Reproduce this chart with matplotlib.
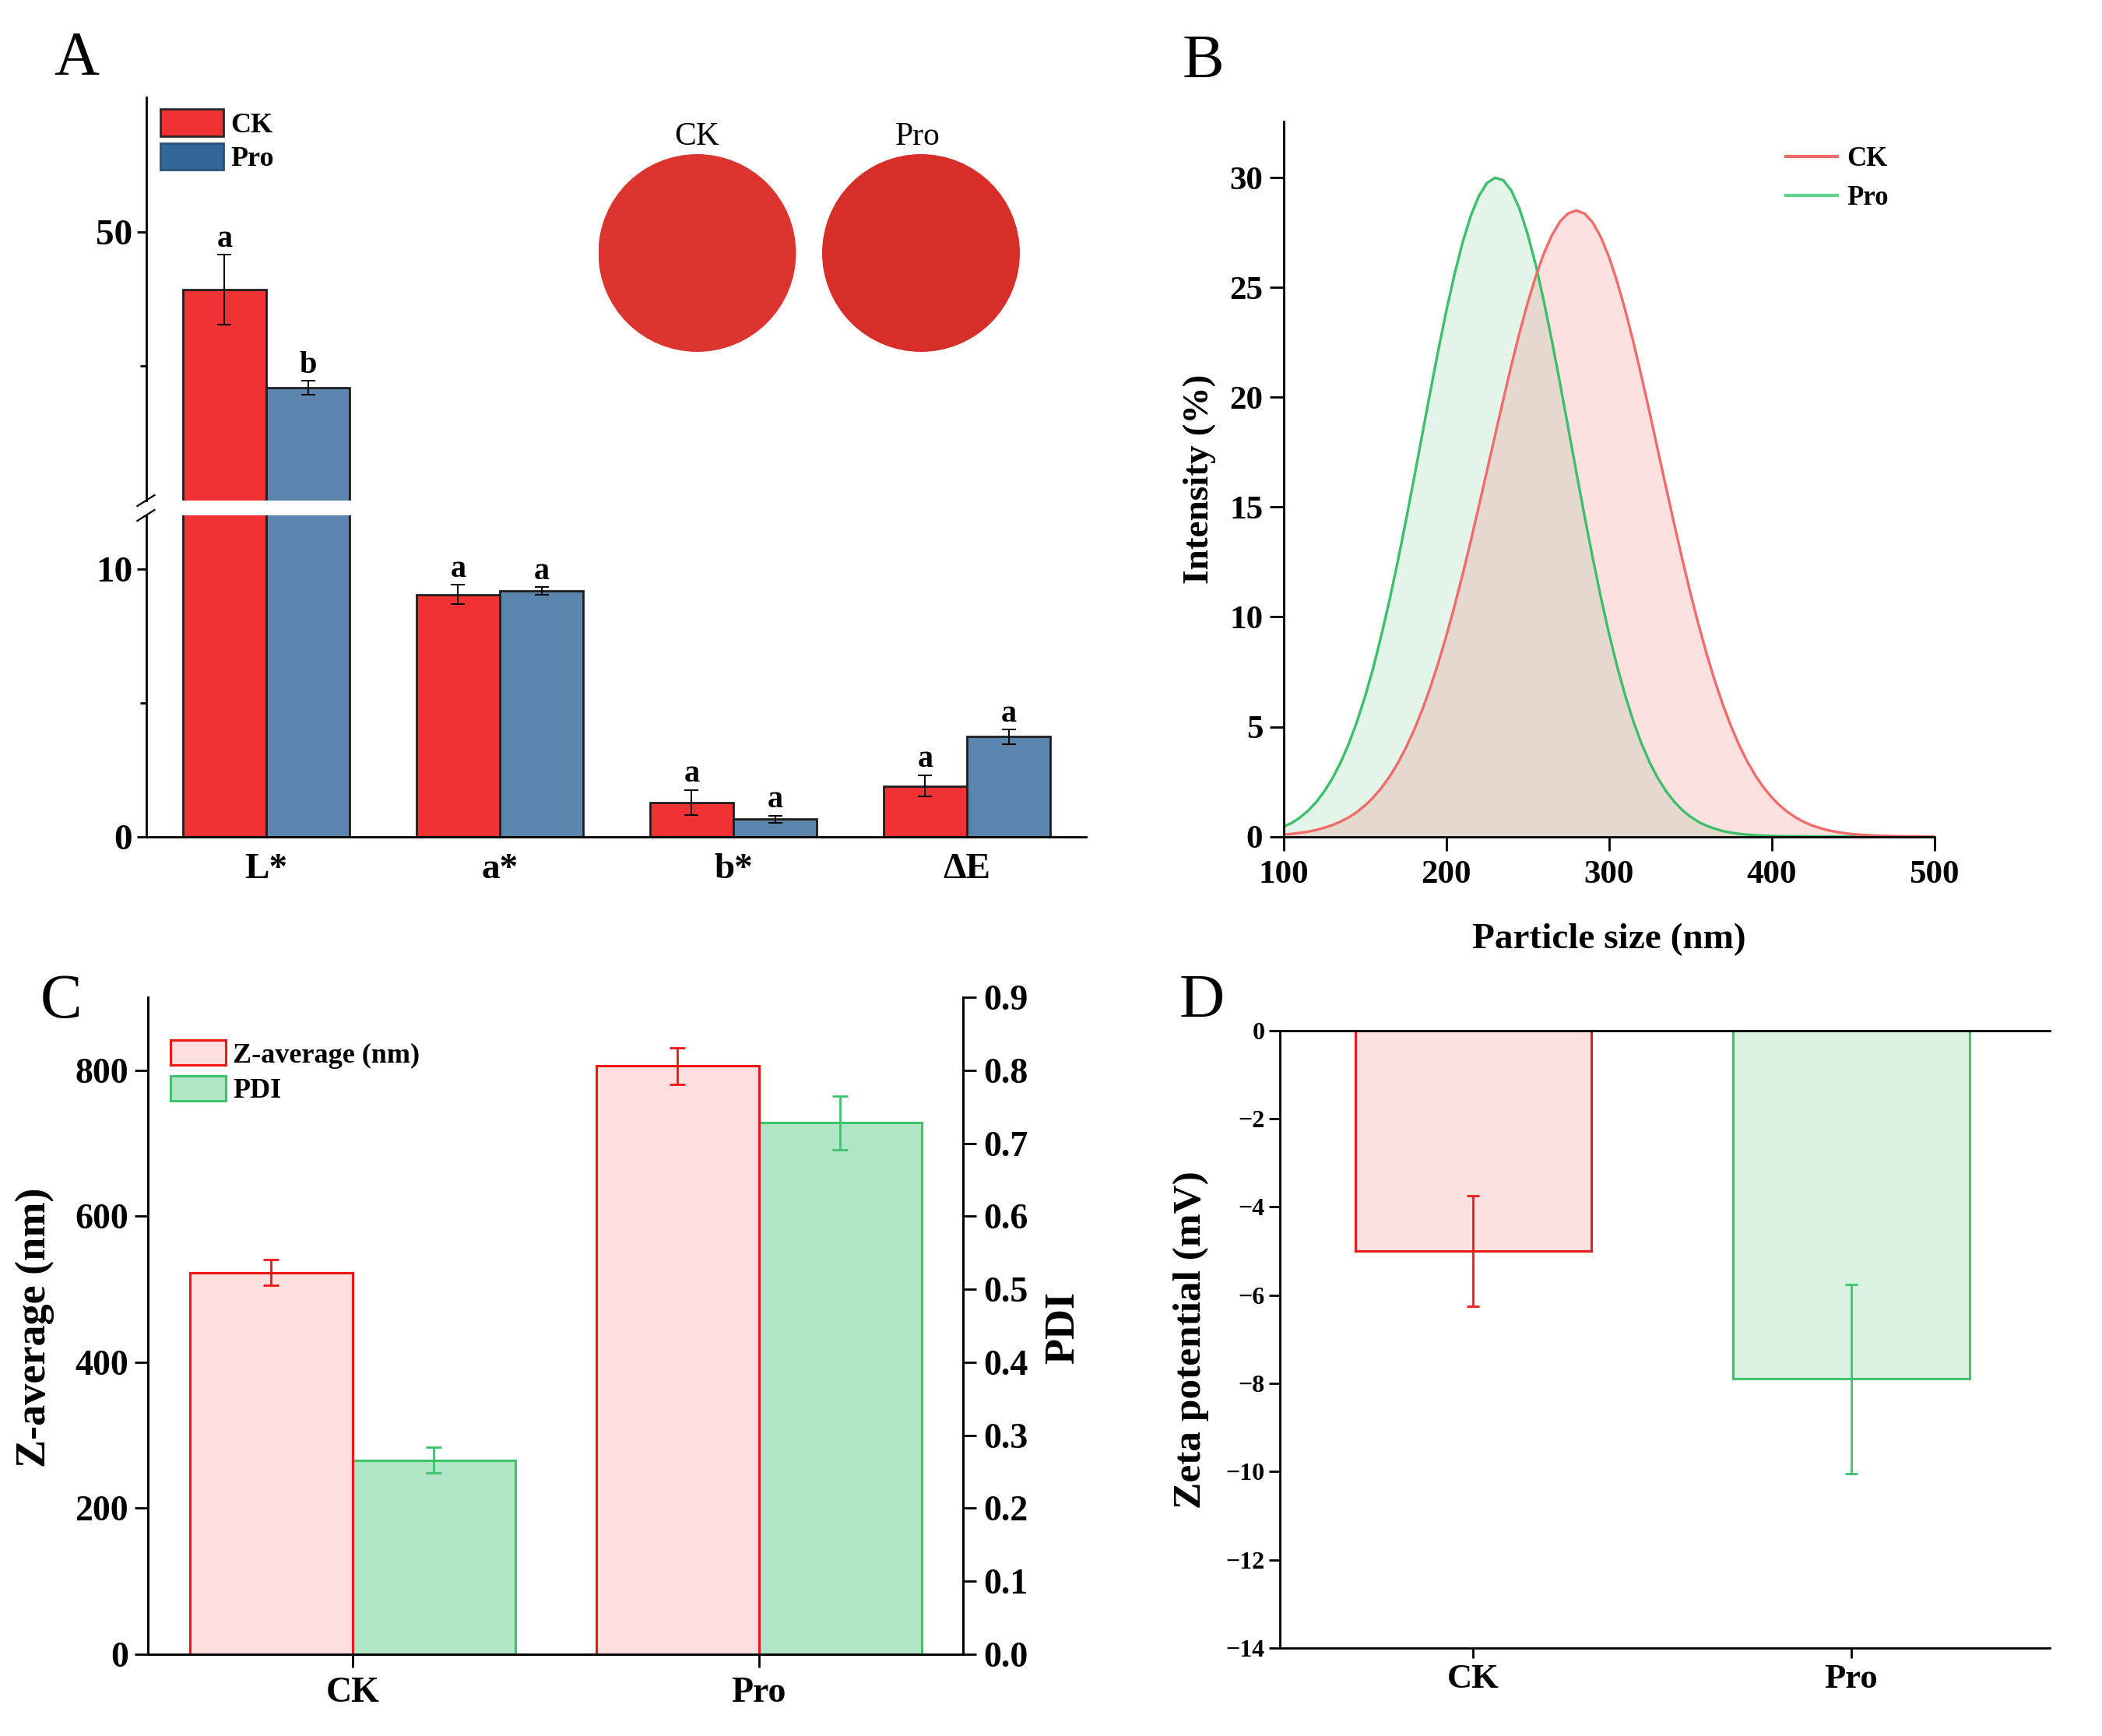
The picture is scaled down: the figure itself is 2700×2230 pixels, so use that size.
import numpy as np
import matplotlib
matplotlib.use('Agg')
import matplotlib.pyplot as plt
from matplotlib.patches import Patch, Circle
from matplotlib.lines import Line2D
from matplotlib.ticker import FormatStrFormatter

plt.rcParams['font.family'] = ['Liberation Serif', 'DejaVu Serif']
plt.rcParams['font.weight'] = 'bold'
plt.rcParams['axes.linewidth'] = 2.0
plt.rcParams['xtick.major.width'] = 2.0
plt.rcParams['ytick.major.width'] = 2.0
plt.rcParams['xtick.minor.width'] = 2.0
plt.rcParams['ytick.minor.width'] = 2.0

# ---------------- data ----------------
# Panel A: colour parameters
color_params = ['L*', 'a*', 'b*', 'ΔE']
color_ck = [45.7, 9.05, 1.28, 1.90]
color_ck_err = [2.6, 0.35, 0.47, 0.40]
color_pro = [38.4, 9.18, 0.66, 3.74]
color_pro_err = [0.5, 0.15, 0.13, 0.27]
sig_ck = ['a', 'a', 'a', 'a']
sig_pro = ['b', 'a', 'a', 'a']

# Panel B: particle size distribution (intensity %)
size_nm = [100, 105, 110, 115, 120, 125, 130, 135, 140, 145, 150, 155, 160, 165, 170,
           175, 180, 185, 190, 195, 200, 205, 210, 215, 220, 225, 230, 235, 240, 245,
           250, 255, 260, 265, 270, 275, 280, 285, 290, 295, 300, 305, 310, 315, 320,
           325, 330, 335, 340, 345, 350, 355, 360, 365, 370, 375, 380, 385, 390, 395,
           400, 405, 410, 415, 420, 425, 430, 435, 440, 445, 450, 455, 460, 465, 470,
           475, 480, 485, 490, 495, 500]
intensity_ck = [0.09, 0.12, 0.17, 0.22, 0.30, 0.40, 0.52, 0.68, 0.87, 1.11, 1.41, 1.77, 2.20,
                2.71, 3.31, 4.01, 4.81, 5.72, 6.74, 7.88, 9.12, 10.47, 11.91, 13.43, 15.02,
                16.64, 18.26, 19.87, 21.44, 22.92, 24.28, 25.50, 26.54, 27.38, 28.00, 28.37,
                28.50, 28.36, 27.96, 27.29, 26.39, 25.27, 23.97, 22.52, 20.95, 19.31, 17.62,
                15.93, 14.27, 12.65, 11.11, 9.67, 8.33, 7.11, 6.01, 5.03, 4.17, 3.42, 2.78,
                2.24, 1.79, 1.41, 1.11, 0.86, 0.66, 0.50, 0.38, 0.28, 0.21, 0.15, 0.11, 0.08,
                0.06, 0.04, 0.03, 0.02, 0.01, 0.01, 0.01, 0.00, 0.00]
intensity_pro = [0.45, 0.62, 0.86, 1.17, 1.56, 2.05, 2.64, 3.36, 4.21, 5.20, 6.35, 7.65, 9.12,
                 10.72, 12.45, 14.30, 16.23, 18.20, 20.17, 22.09, 23.91, 25.57, 27.03, 28.24,
                 29.15, 29.75, 29.99, 29.88, 29.41, 28.58, 27.44, 26.02, 24.37, 22.55, 20.61,
                 18.60, 16.58, 14.60, 12.70, 10.91, 9.26, 7.76, 6.43, 5.25, 4.24, 3.38, 2.67,
                 2.08, 1.60, 1.21, 0.91, 0.67, 0.49, 0.36, 0.25, 0.18, 0.12, 0.09, 0.06, 0.04,
                 0.03, 0.02, 0.01, 0.01, 0.01, 0.00, 0.00, 0.00, 0.00, 0.00, 0.00, 0.00, 0.00,
                 0.00, 0.00, 0.00, 0.00, 0.00, 0.00, 0.00, 0.00]

# Panel C: Z-average and PDI
groups = ['CK', 'Pro']
z_average = [523, 806]
z_average_err = [18, 25]
pdi = [0.266, 0.728]
pdi_err = [0.018, 0.037]

# Panel D: zeta potential
zeta = [-5.0, -7.9]
zeta_err = [1.26, 2.15]

# ---------------- figure ----------------
W, H = 2700, 2230
fig = plt.figure(figsize=(27, 22.3), dpi=100)


def rect(x0, y0, x1, y1):
    return [x0 / W, 1 - y1 / H, (x1 - x0) / W, (y1 - y0) / H]


def fx(x):
    return x / W


def fy(y):
    return 1 - y / H


RED_A = '#F03235'
BLUE_A = '#5B85AD'
EDGE_A = '#1E1E1E'

# ---------------- Panel A ----------------
A_LEFT, A_RIGHT = 187.5, 1395
axA_top = fig.add_axes(rect(A_LEFT, 125, A_RIGHT, 643))
axA_bot = fig.add_axes(rect(A_LEFT, 662, A_RIGHT, 1075))
xA = np.arange(len(color_params))
bw = 0.357
for ax in (axA_top, axA_bot):
    ax.bar(xA - bw / 2, color_ck, bw, color=RED_A, edgecolor=EDGE_A, linewidth=2)
    ax.bar(xA + bw / 2, color_pro, bw, color=BLUE_A, edgecolor=EDGE_A, linewidth=2)
    ax.errorbar(xA - bw / 2, color_ck, yerr=color_ck_err, fmt='none', ecolor='black',
                elinewidth=1.4, capsize=6.5, capthick=1.4)
    ax.errorbar(xA + bw / 2, color_pro, yerr=color_pro_err, fmt='none', ecolor='black',
                elinewidth=1.4, capsize=6.5, capthick=1.4)
    ax.set_xlim(-0.515, 3.51)
    for s in ('top', 'right'):
        ax.spines[s].set_visible(False)
    ax.tick_params(axis='y', direction='out', length=8.5, width=2, labelsize=34, pad=4)
    ax.tick_params(axis='y', which='minor', direction='out', length=6, width=2)

axA_top.set_ylim(30, 60)
axA_top.set_yticks([50])
axA_top.set_yticks([40], minor=True)
axA_top.spines['bottom'].set_visible(False)
axA_top.set_xticks([])

axA_bot.set_ylim(0, 12)
axA_bot.set_yticks([0, 10])
axA_bot.set_yticks([5], minor=True)
axA_bot.set_xticks(xA)
axA_bot.set_xticklabels(color_params)
axA_bot.tick_params(axis='x', length=0, labelsize=34, pad=15)

for i in range(len(color_params)):
    for xv, v, e, s in ((xA[i] - bw / 2, color_ck[i], color_ck_err[i], sig_ck[i]),
                        (xA[i] + bw / 2, color_pro[i], color_pro_err[i], sig_pro[i])):
        tgt = axA_top if v + e > 12 else axA_bot
        tgt.annotate(s, (xv, v + e), xytext=(0, 1), textcoords='offset points',
                     ha='center', va='bottom', fontsize=29, fontweight='bold')

# axis break marks
for yb in (643, 662):
    fig.add_artist(Line2D([fx(A_LEFT - 11), fx(A_LEFT + 11)], [fy(yb + 7), fy(yb - 7)],
                          transform=fig.transFigure, color='black', lw=1.6))

# legend A
fig.legend(handles=[Patch(facecolor=RED_A, edgecolor='#2A2A2A', linewidth=2),
                    Patch(facecolor='#336699', edgecolor='#2B4F7A', linewidth=2)],
           labels=['CK', 'Pro'], loc='upper left',
           bbox_to_anchor=(fx(206), fy(140)), bbox_transform=fig.transFigure,
           frameon=False, fontsize=26, handlelength=2.24, handleheight=1.1,
           handletextpad=0.25, labelspacing=0.17, borderpad=0, borderaxespad=0)

# sample photos (dishes)
for cx, lx, lab, col in ((895.5, 895.5, 'CK', '#DC342F'), (1183, 1179, 'Pro', '#D82E2A')):
    r = 127
    axc = fig.add_axes(rect(cx - r, 325 - r, cx + r, 325 + r))
    axc.set_xlim(0, 1)
    axc.set_ylim(0, 1)
    axc.axis('off')
    axc.add_patch(Circle((0.5, 0.5), 0.5, facecolor=col, edgecolor='none'))
    fig.text(fx(lx), fy(176), lab, ha='center', va='center', fontsize=30,
             fontweight='normal')

fig.text(fx(98), fy(77), 'A', ha='center', va='center', fontsize=58, fontweight='normal')

# ---------------- Panel B ----------------
B_L, B_R, B_T, B_B = 1648.7, 2484.6, 155.5, 1074.6
axB = fig.add_axes(rect(B_L, B_T, B_R, B_B))
CK_LINE = '#F26B6B'
PRO_LINE = '#3CBF6A'
axB.fill_between(size_nm, intensity_pro, 0, color=(0.24, 0.75, 0.42), alpha=0.15, lw=0)
axB.plot(size_nm, intensity_pro, color=PRO_LINE, lw=2.4)
axB.fill_between(size_nm, intensity_ck, 0, color=(0.96, 0.42, 0.42), alpha=0.2, lw=0)
axB.plot(size_nm, intensity_ck, color=CK_LINE, lw=2.4)
axB.set_xlim(100, 500)
axB.set_ylim(0, 32.57)
axB.set_xticks([100, 200, 300, 400, 500])
axB.set_yticks([0, 5, 10, 15, 20, 25, 30])
for s in ('top', 'right'):
    axB.spines[s].set_visible(False)
axB.tick_params(axis='both', direction='out', length=13, width=2, labelsize=31, pad=6)
axB.tick_params(axis='x', pad=9)
axB.set_xlabel('Particle size (nm)', fontsize=34, fontweight='bold', va='center')
axB.set_ylabel('Intensity (%)', fontsize=34, fontweight='bold', va='center')
axB.xaxis.set_label_coords(0.5, -(1207 - B_B) / (B_B - B_T))
axB.yaxis.set_label_coords((1541 - B_L) / (B_R - B_L), 0.5)
axB.legend(handles=[Line2D([], [], color=CK_LINE, lw=3),
                    Line2D([], [], color='#5ED48A', lw=3)],
           labels=['CK', 'Pro'], loc='upper left',
           bbox_to_anchor=(fx(2294), fy(188)), bbox_transform=fig.transFigure,
           frameon=False, fontsize=25, handlelength=1.9, handletextpad=0.35,
           labelspacing=0.5, borderpad=0, borderaxespad=0)
fig.text(fx(1545), fy(80), 'B', ha='center', va='center', fontsize=58, fontweight='normal')

# ---------------- Panel C ----------------
C_L, C_R, C_T, C_B = 190, 1237, 1281, 2125
axC = fig.add_axes(rect(C_L, C_T, C_R, C_B))
axC2 = axC.twinx()
xC = np.arange(len(groups))
bwc = 0.40
Z_FILL, Z_EDGE = '#FDDEDF', '#EE1515'
P_FILL, P_EDGE = '#B0E6C5', '#3CC36C'
axC.bar(xC - bwc / 2, z_average, bwc, color=Z_FILL, edgecolor=Z_EDGE, linewidth=2.2)
axC.errorbar(xC - bwc / 2, z_average, yerr=z_average_err, fmt='none', ecolor=Z_EDGE,
             elinewidth=2, capsize=7, capthick=2)
axC2.bar(xC + bwc / 2, pdi, bwc, color=P_FILL, edgecolor=P_EDGE, linewidth=2.2)
axC2.errorbar(xC + bwc / 2, pdi, yerr=pdi_err, fmt='none', ecolor=P_EDGE,
              elinewidth=2, capsize=7, capthick=2)
axC.set_xlim(-0.503, 1.502)
axC.set_ylim(0, 900)
axC.set_yticks([0, 200, 400, 600, 800])
axC2.set_ylim(0, 0.9)
axC2.set_yticks(np.arange(0, 0.91, 0.1))
axC2.yaxis.set_major_formatter(FormatStrFormatter('%.1f'))
axC.set_xticks(xC)
axC.set_xticklabels(groups)
axC.spines['top'].set_visible(False)
axC2.spines['top'].set_visible(False)
axC.tick_params(axis='both', direction='out', length=12, width=2, labelsize=33, pad=6)
axC.tick_params(axis='x', pad=9)
axC2.tick_params(axis='y', direction='out', length=12, width=2, labelsize=33, pad=7)
axC.set_ylabel('Z-average (nm)', fontsize=39, fontweight='bold', va='center')
axC.yaxis.set_label_coords((44.6 - C_L) / (C_R - C_L), (C_B - 1705) / (C_B - C_T))
axC2.set_ylabel('PDI', fontsize=39, fontweight='bold', va='center')
axC2.yaxis.set_label_coords((1366 - C_L) / (C_R - C_L), (C_B - 1705) / (C_B - C_T))
axC.legend(handles=[Patch(facecolor=Z_FILL, edgecolor=Z_EDGE, linewidth=2.2),
                    Patch(facecolor=P_FILL, edgecolor=P_EDGE, linewidth=2.2)],
           labels=['Z-average (nm)', 'PDI'], loc='upper left',
           bbox_to_anchor=(fx(219), fy(1336)), bbox_transform=fig.transFigure,
           frameon=False, fontsize=26, handlelength=1.97, handleheight=1.0,
           handletextpad=0.25, labelspacing=0.25, borderpad=0, borderaxespad=0)
axC.set_zorder(axC2.get_zorder() + 1)
axC.patch.set_visible(False)
fig.text(fx(78.6), fy(1287), 'C', ha='center', va='center', fontsize=58, fontweight='normal')

# ---------------- Panel D ----------------
D_L, D_R, D_T, D_B = 1643.7, 2632.7, 1323.75, 2117
axD = fig.add_axes(rect(D_L, D_T, D_R, D_B))
xD = np.arange(len(groups))
bwd = 0.624
D_FILLS = ['#FDE1E1', '#D9F2E2']
D_EDGES = ['#EE1B1B', '#3DC46D']
axD.bar(xD, zeta, bwd, color=D_FILLS, edgecolor=D_EDGES, linewidth=2.2)
for i in range(len(groups)):
    axD.errorbar(xD[i], zeta[i], yerr=zeta_err[i], fmt='none', ecolor=D_EDGES[i],
                 elinewidth=2, capsize=6, capthick=2)
axD.set_xlim(-0.512, 1.5245)
axD.set_ylim(-14, 0)
axD.set_yticks(np.arange(-14, 1, 2))
axD.set_xticks(xD)
axD.set_xticklabels(groups)
axD.spines['right'].set_visible(False)
axD.tick_params(axis='y', direction='out', length=10, width=2, labelsize=23, pad=4)
axD.tick_params(axis='x', direction='out', length=9.5, width=2, labelsize=32, pad=5)
axD.set_ylabel('Zeta potential (mV)', fontsize=37, fontweight='bold', va='center')
axD.yaxis.set_label_coords((1529.7 - D_L) / (D_R - D_L), (D_B - 1721) / (D_B - D_T))
fig.text(fx(1544), fy(1287), 'D', ha='center', va='center', fontsize=58, fontweight='normal')

fig.savefig('out.png', dpi=100)
